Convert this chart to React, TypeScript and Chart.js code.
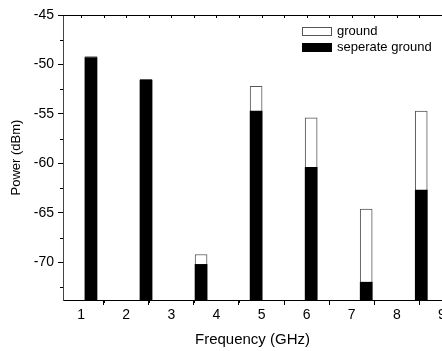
import React, { useEffect, useRef } from "react";
import { Chart, registerables } from "chart.js";

Chart.register(...registerables);

const FREQ = [1.22, 2.44, 3.66, 4.88, 6.1, 7.32, 8.54];
const GROUND = [-49.2, -51.5, -69.2, -52.2, -55.4, -64.6, -54.7];
const SEPERATE = [-49.3, -51.6, -70.2, -54.7, -60.4, -72.0, -62.7];
const LABELS = ["ground", "seperate ground"];
const X_TICKS = [1, 2, 3, 4, 5, 6, 7, 8, 9];
const X_MINOR = [1.5, 2.5, 3.5, 4.5, 5.5, 6.5, 7.5, 8.5];
const Y_TICKS = [-70, -65, -60, -55, -50, -45];
const Y_MINOR = [-72.5, -67.5, -62.5, -57.5, -52.5, -47.5];
const X_MIN = 0.6;
const X_MAX = 9.0;
const Y_MIN = -73.8;
const Y_MAX = -45;

const FONT = '"Liberation Sans", Arial, Helvetica, sans-serif';

const extras = {
  id: "extras",
  afterDraw(chart: any) {
    const ctx = chart.ctx;
    const a = chart.chartArea;
    const xs = chart.scales.x;
    const ys = chart.scales.y;
    ctx.save();
    ctx.strokeStyle = "#000";
    ctx.lineWidth = 1;
    ctx.beginPath();
    ctx.moveTo(a.left, a.top + 0.5);
    ctx.lineTo(a.right, a.top + 0.5);
    ctx.stroke();
    ctx.beginPath();
    for (const v of Y_MINOR) {
      const p = Math.round(ys.getPixelForValue(v)) + 0.5;
      ctx.moveTo(a.left - 3, p);
      ctx.lineTo(a.left, p);
    }
    for (const v of X_MINOR) {
      const p = Math.round(xs.getPixelForValue(v)) + 0.5;
      ctx.moveTo(p, a.bottom);
      ctx.lineTo(p, a.bottom + 3);
    }
    for (const v of [...X_TICKS, ...X_MINOR]) {
      const p = Math.round(xs.getPixelForValue(v)) + 0.5;
      ctx.moveTo(p, a.top);
      ctx.lineTo(p, a.top + 3);
    }
    ctx.stroke();
    const bx = 302;
    const rows = [
      { y: 27, fill: "#fff", stroke: "#555", label: LABELS[0] },
      { y: 43, fill: "#000", stroke: "#000", label: LABELS[1] },
    ];
    ctx.font = `13px ${FONT}`;
    ctx.textBaseline = "middle";
    ctx.textAlign = "left";
    for (const r of rows) {
      ctx.fillStyle = r.fill;
      ctx.fillRect(bx, r.y, 30, 9);
      ctx.strokeStyle = r.stroke;
      ctx.strokeRect(bx + 0.5, r.y + 0.5, 29, 8);
      ctx.fillStyle = "#000";
      ctx.fillText(r.label, bx + 35, r.y + 4.5);
    }
    ctx.restore();
  },
};

export default function App() {
  const ref = useRef<HTMLCanvasElement>(null);
  useEffect(() => {
    if (!ref.current) return;
    const chart = new Chart(ref.current, {
      type: "bar",
      data: {
        datasets: [
          {
            label: LABELS[0],
            data: FREQ.map((x, i) => ({ x, y: GROUND[i] })),
            backgroundColor: "#fff",
            borderColor: "#555",
            borderWidth: 1,
            borderSkipped: false,
            base: Y_MIN,
            barThickness: 12,
            grouped: false,
            order: 2,
          } as any,
          {
            label: LABELS[1],
            data: FREQ.map((x, i) => ({ x, y: SEPERATE[i] })),
            backgroundColor: "#000",
            borderWidth: 0,
            base: Y_MIN,
            barThickness: 12,
            grouped: false,
            order: 1,
          } as any,
        ],
      },
      options: {
        animation: false,
        responsive: false,
        events: [],
        layout: { padding: { top: 15, right: 0, left: 0, bottom: 0 } },
        plugins: { legend: { display: false }, tooltip: { enabled: false } },
        scales: {
          x: {
            type: "linear",
            min: X_MIN,
            max: X_MAX,
            offset: false,
            afterBuildTicks: (s: any) => {
              s.ticks = X_TICKS.map((v) => ({ value: v }));
            },
            afterFit: (s: any) => {
              s.height = 51;
              s.paddingLeft = 0;
              s.paddingRight = 0;
            },
            ticks: {
              autoSkip: false,
              maxRotation: 0,
              color: "#000",
              padding: 2,
              font: { family: FONT, size: 14 },
            },
            grid: {
              drawOnChartArea: false,
              drawTicks: true,
              tickLength: 5,
              color: "#000",
            },
            border: { display: true, color: "#000", width: 1 },
            title: {
              display: true,
              text: "Frequency (GHz)",
              color: "#000",
              font: { family: FONT, size: 15 },
              padding: { top: 2, bottom: 2 },
            },
          },
          y: {
            type: "linear",
            min: Y_MIN,
            max: Y_MAX,
            afterBuildTicks: (s: any) => {
              s.ticks = Y_TICKS.map((v) => ({ value: v }));
            },
            afterFit: (s: any) => {
              s.width = 63;
              s.paddingTop = 0;
              s.paddingBottom = 0;
            },
            ticks: {
              color: "#000",
              padding: 4,
              font: { family: FONT, size: 14 },
            },
            grid: {
              drawOnChartArea: false,
              drawTicks: true,
              tickLength: 5,
              color: "#000",
            },
            border: { display: true, color: "#444", width: 1 },
            title: {
              display: true,
              text: "Power (dBm)",
              color: "#000",
              font: { family: FONT, size: 13 },
              padding: { top: 9, bottom: 9 },
            },
          },
        },
      },
      plugins: [extras],
    });
    return () => chart.destroy();
  }, []);
  return (
    <div style={{ position: "absolute", left: 0, top: 0, width: 442, height: 351 }}>
      <canvas ref={ref} width={442} height={351} />
    </div>
  );
}
